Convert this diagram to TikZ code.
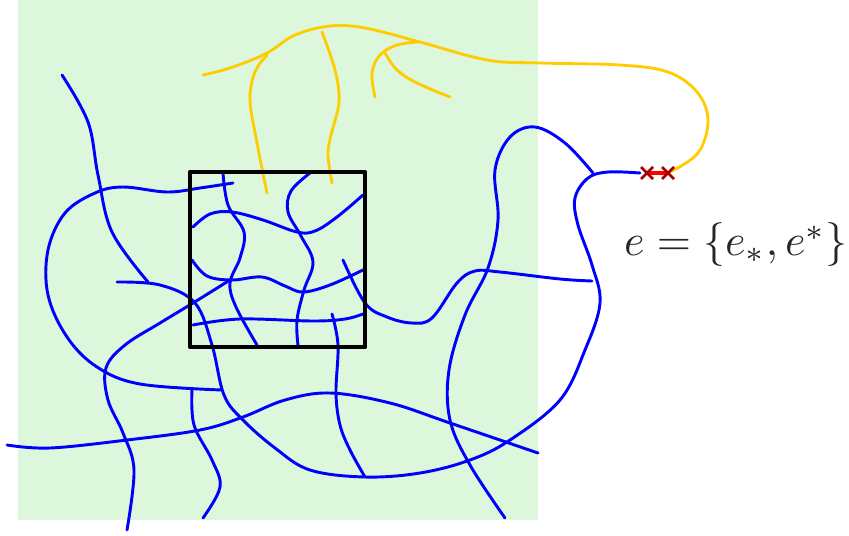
\documentclass[tikz,border=0pt]{standalone}
\usepackage{tikz}
\usepackage{amsmath}
\usetikzlibrary{calc}
\definecolor{bggreen}{RGB}{220,247,220}
\definecolor{gold}{RGB}{255,204,0}
\definecolor{darkred}{RGB}{165,0,0}

\begin{document}
\begin{tikzpicture}[x=0.3mm,y=-0.3mm,
  strand/.style={blue, line width=2.5pt, line cap=round},
  branch/.style={gold, line width=2.4pt, line cap=round}]
\newcommand\Cross[1]{+(-#1,-#1) -- +(#1,#1) +(-#1,#1) -- +(#1,-#1)}
\useasboundingbox (0,0) rectangle (849,535);
\fill [bggreen] (18,0) rectangle (538,520);

% yellow tree
\draw [branch] plot[smooth, tension=0.6] coordinates {(203,75) (233,67) (267,53) (295,35) (330,26) (365,28) (420,42) (487,60) (540,63) (620,65) (668,72) (697,92) (708,120) (698,153) (668,173)};
\draw [branch] plot[smooth, tension=0.6] coordinates {(267,193) (257,143) (250,100) (255,72) (267,55)};
\draw [branch] plot[smooth, tension=0.6] coordinates {(322,32) (335,70) (339,102) (331,135) (328,155) (332,183)};
\draw [branch] plot[smooth, tension=0.6] coordinates {(418,42) (397,45) (380,55) (372,73) (375,97)};
\draw [branch] plot[smooth, tension=0.6] coordinates {(385,53) (397,70) (417,83) (450,97)};

% blue strands
\draw [strand] plot[smooth, tension=0.6] coordinates {(62,75) (88,122) (98,175) (112,232) (148,282)};
\draw [strand] plot[smooth, tension=0.6] coordinates {(233,183) (200,188) (167,192) (123,187) (95,193) (65,213) (48,250) (48,295) (67,337) (97,367) (140,384) (222,390)};
\draw [strand] plot[smooth, tension=0.6] coordinates {(117,282) (160,285) (195,303) (212,345) (224,395) (243,420) (275,448) (310,470) (365,477) (420,473) (470,460) (510,440) (560,400) (585,350) (600,303) (592,265) (578,225) (575,198) (588,178) (608,172) (640,173)};
\draw [strand] plot[smooth, tension=0.6] coordinates {(593,173) (565,143) (535,127) (510,137) (495,170) (498,220) (488,268) (465,315) (449,370) (450,420) (470,465) (505,518)};
\draw [strand] plot[smooth, tension=0.6] coordinates {(343,260) (365,303) (387,317) (412,323) (432,318) (457,283) (475,271) (500,272) (560,279) (592,281)};
\draw [strand] plot[smooth, tension=0.6] coordinates {(7,445) (50,448) (127,440) (200,430) (243,417) (285,400) (330,393) (390,403) (450,423) (538,453)};
\draw [strand] plot[smooth, tension=0.6] coordinates {(230,280) (193,303) (160,323) (125,345) (106,368) (108,400) (123,433) (134,470) (127,530)};
\draw [strand] plot[smooth, tension=0.6] coordinates {(192,260) (207,276) (232,280) (262,277) (285,286) (303,292) (330,285) (363,270)};
\draw [strand] plot[smooth, tension=0.6] coordinates {(193,227) (210,214) (232,212) (263,220) (297,232) (315,231) (337,217) (363,195)};
\draw [strand] plot[smooth, tension=0.6] coordinates {(223,173) (228,205) (244,232) (240,258) (230,283) (236,307) (257,345)};
\draw [strand] plot[smooth, tension=0.6] coordinates {(310,173) (291,191) (288,212) (301,236) (313,262) (304,290) (297,320) (298,345)};
\draw [strand] plot[smooth, tension=0.6] coordinates {(193,325) (240,319) (313,321) (345,319) (363,314)};
\draw [strand] plot[smooth, tension=0.6] coordinates {(332,314) (338,345) (336,393) (340,425) (350,450) (365,477)};
\draw [strand] plot[smooth, tension=0.6] coordinates {(192,390) (194,425) (212,460) (220,487) (203,518)};

% window
\draw [line width=3.8pt, line join=round] (190,172) rectangle (365,347);

% the cut edge
\coordinate (esub) at (647,173);
\coordinate (esup) at (668,173);
\draw [red, line width=4pt] (esub) -- (esup);
\draw [darkred, line width=2.2pt] (esub) \Cross{6};
\draw [darkred, line width=2.2pt] (esup) \Cross{6};

\node (elabel) [black!85, scale=3.75] at (736,245) {$e=\{e_*,e^*\}$};
\end{tikzpicture}
\end{document}
